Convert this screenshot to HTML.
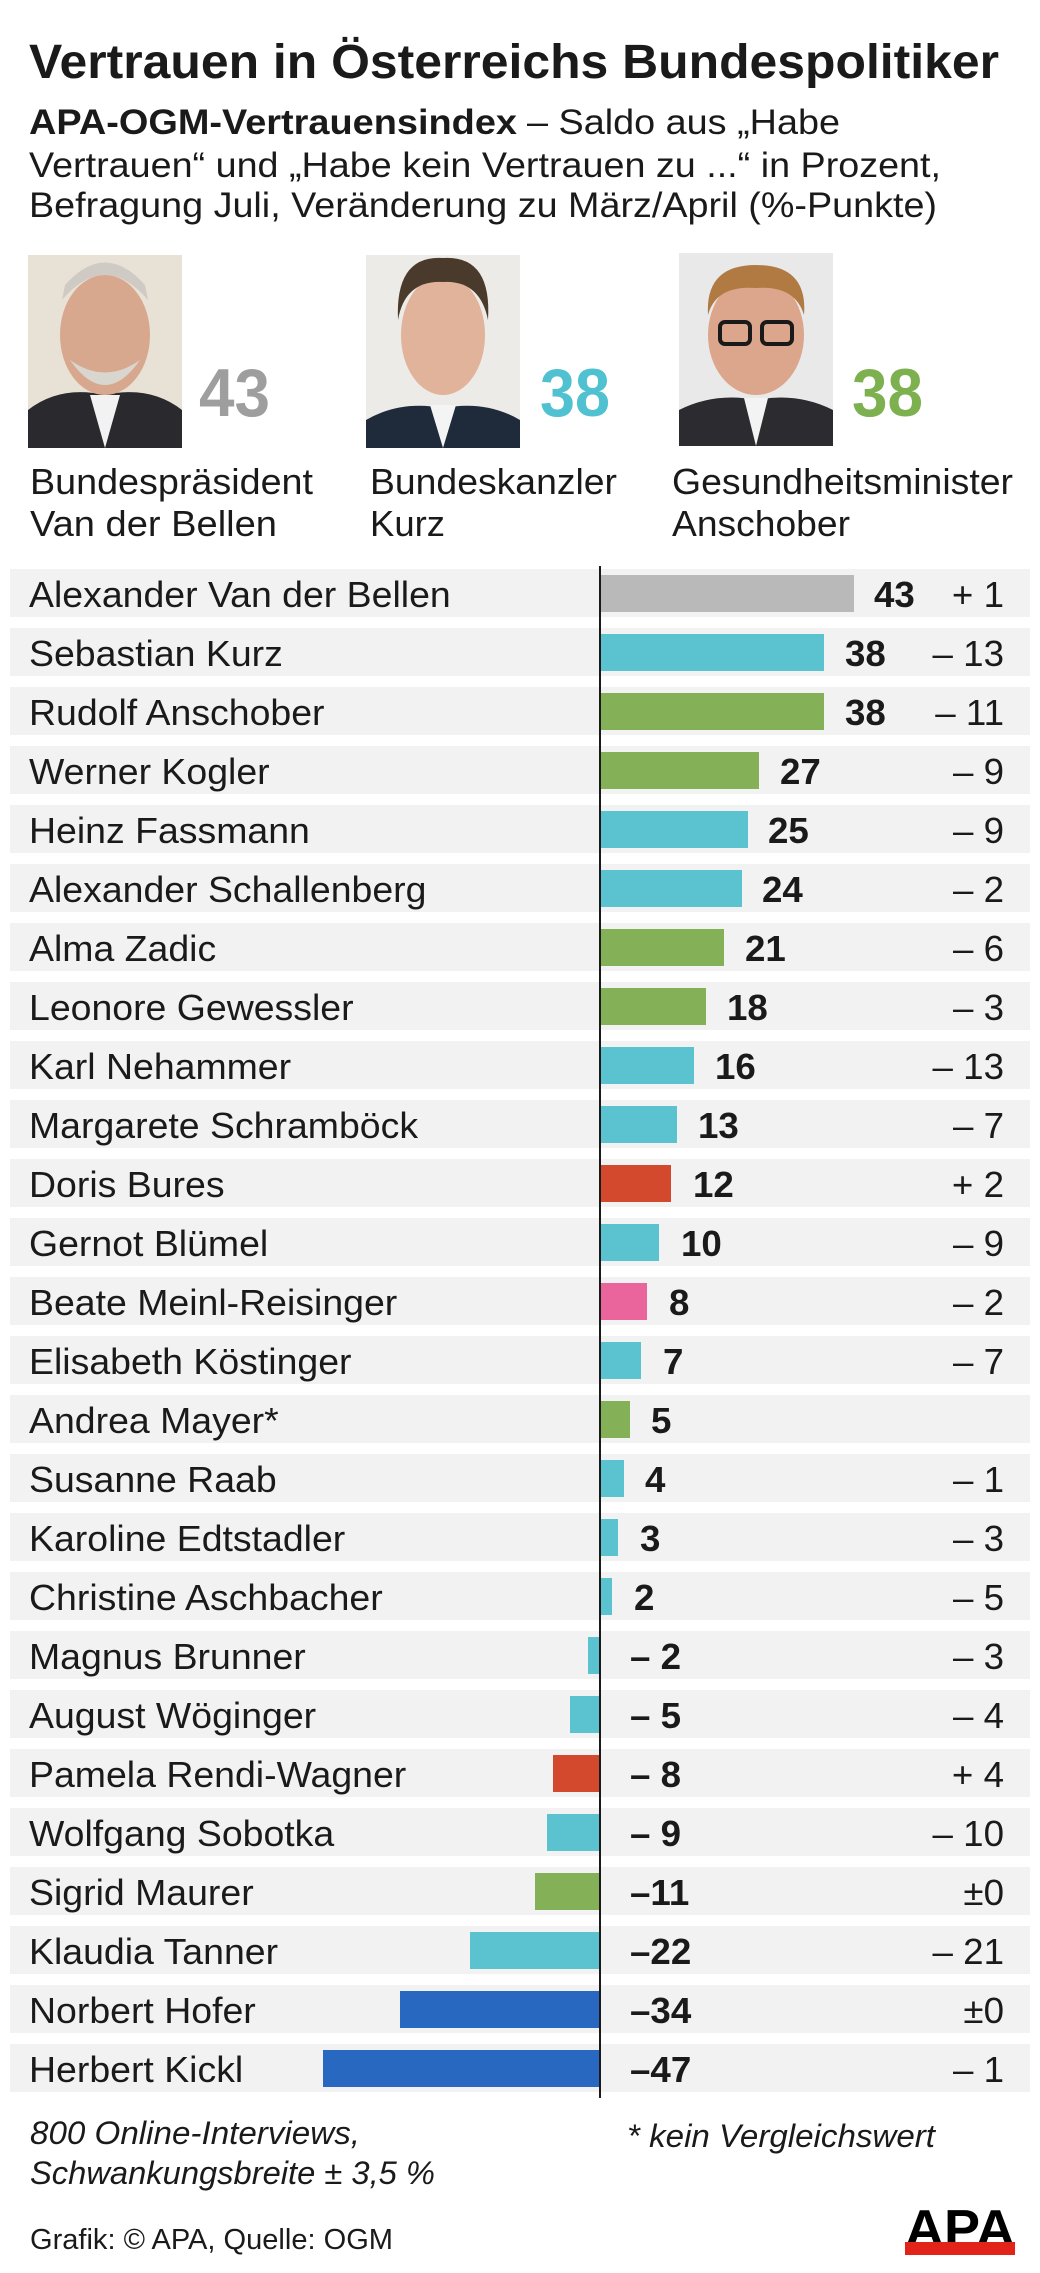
<!DOCTYPE html>
<html><head><meta charset="utf-8"><style>
html,body{margin:0;padding:0;background:#fff}
svg{display:block}
text{font-family:"Liberation Sans",Arial,sans-serif;fill:#1a1a1a}
.n{font-size:36px}
.b{font-size:36px;font-weight:bold}
.c{font-size:36px;text-anchor:end}
</style></head><body>
<svg width="1040" height="2273" viewBox="0 0 1040 2273" xmlns="http://www.w3.org/2000/svg">
<rect width="1040" height="2273" fill="#fff"/>
<text x="29" y="78" font-size="48" font-weight="bold" textLength="970" lengthAdjust="spacingAndGlyphs">Vertrauen in Österreichs Bundespolitiker</text>
<text x="29" y="134" font-size="35" font-weight="bold" textLength="488" lengthAdjust="spacingAndGlyphs">APA-OGM-Vertrauensindex</text>
<text x="527" y="134" font-size="35" textLength="313" lengthAdjust="spacingAndGlyphs">– Saldo aus „Habe</text>
<text x="29" y="177" font-size="35" textLength="912" lengthAdjust="spacingAndGlyphs">Vertrauen“ und „Habe kein Vertrauen zu ...“ in Prozent,</text>
<text x="29" y="217" font-size="35" textLength="908" lengthAdjust="spacingAndGlyphs">Befragung Juli, Veränderung zu März/April (%-Punkte)</text>

<g>
<rect x="28" y="255" width="154" height="193" fill="#e8e2d6"/>
<path d="M28 448 L28 410 Q60 385 105 395 Q150 385 182 410 L182 448Z" fill="#2a2a2e"/>
<path d="M90 395 L105 448 L120 395Z" fill="#f2f2f2"/>
<ellipse cx="105" cy="335" rx="45" ry="60" fill="#d8a88e"/>
<path d="M62 300 Q105 250 148 300 L145 285 Q105 240 65 285Z" fill="#cfcac4"/>
<path d="M70 360 Q105 410 140 360 Q105 385 70 360Z" fill="#d9d6d0"/>
</g>
<g>
<rect x="366" y="255" width="154" height="193" fill="#ecebe8"/>
<path d="M366 448 L366 420 Q400 400 443 408 Q486 400 520 420 L520 448Z" fill="#1f2a3a"/>
<path d="M430 405 L443 448 L456 405Z" fill="#f4f4f4"/>
<ellipse cx="443" cy="335" rx="42" ry="60" fill="#e0b39a"/>
<path d="M398 320 Q395 255 443 258 Q492 255 488 320 Q480 280 443 282 Q405 280 398 320Z" fill="#4a3a2c"/>
</g>
<g>
<rect x="679" y="253" width="154" height="193" fill="#e9e9ea"/>
<path d="M679 446 L679 410 Q715 392 756 400 Q797 392 833 410 L833 446Z" fill="#2b2b30"/>
<path d="M744 398 L756 446 L768 398Z" fill="#f3f3f3"/>
<ellipse cx="756" cy="335" rx="48" ry="60" fill="#dca68c"/>
<path d="M708 315 Q705 265 756 265 Q808 265 804 315 Q795 285 756 288 Q716 285 708 315Z" fill="#b07a42"/>
<rect x="720" y="322" width="30" height="22" rx="5" fill="none" stroke="#1a1a1a" stroke-width="4"/>
<rect x="762" y="322" width="30" height="22" rx="5" fill="none" stroke="#1a1a1a" stroke-width="4"/>
</g>
<text x="199" y="416" font-size="68" font-weight="bold" style="fill:#9e9e9e" textLength="71" lengthAdjust="spacingAndGlyphs">43</text>
<text x="540" y="416" font-size="68" font-weight="bold" style="fill:#4fc1d0" textLength="70" lengthAdjust="spacingAndGlyphs">38</text>
<text x="852" y="416" font-size="68" font-weight="bold" style="fill:#7db04f" textLength="71" lengthAdjust="spacingAndGlyphs">38</text>
<text x="30" y="494" font-size="36" textLength="283" lengthAdjust="spacingAndGlyphs">Bundespräsident</text>
<text x="30" y="536" font-size="36" textLength="247" lengthAdjust="spacingAndGlyphs">Van der Bellen</text>
<text x="370" y="494" font-size="36" textLength="247" lengthAdjust="spacingAndGlyphs">Bundeskanzler</text>
<text x="370" y="536" font-size="36" textLength="75" lengthAdjust="spacingAndGlyphs">Kurz</text>
<text x="672" y="494" font-size="36" textLength="341" lengthAdjust="spacingAndGlyphs">Gesundheitsminister</text>
<text x="672" y="536" font-size="36" textLength="178" lengthAdjust="spacingAndGlyphs">Anschober</text>

<g fill="#f2f2f3">
<rect x="10" y="569" width="1020" height="48"/><rect x="10" y="628" width="1020" height="48"/>
<rect x="10" y="687" width="1020" height="48"/><rect x="10" y="746" width="1020" height="48"/>
<rect x="10" y="805" width="1020" height="48"/><rect x="10" y="864" width="1020" height="48"/>
<rect x="10" y="923" width="1020" height="48"/><rect x="10" y="982" width="1020" height="48"/>
<rect x="10" y="1041" width="1020" height="48"/><rect x="10" y="1100" width="1020" height="48"/>
<rect x="10" y="1159" width="1020" height="48"/><rect x="10" y="1218" width="1020" height="48"/>
<rect x="10" y="1277" width="1020" height="48"/><rect x="10" y="1336" width="1020" height="48"/>
<rect x="10" y="1395" width="1020" height="48"/><rect x="10" y="1454" width="1020" height="48"/>
<rect x="10" y="1513" width="1020" height="48"/><rect x="10" y="1572" width="1020" height="48"/>
<rect x="10" y="1631" width="1020" height="48"/><rect x="10" y="1690" width="1020" height="48"/>
<rect x="10" y="1749" width="1020" height="48"/><rect x="10" y="1808" width="1020" height="48"/>
<rect x="10" y="1867" width="1020" height="48"/><rect x="10" y="1926" width="1020" height="48"/>
<rect x="10" y="1985" width="1020" height="48"/><rect x="10" y="2044" width="1020" height="48"/>
</g>

<rect x="600" y="575" width="254" height="37" fill="#b9b9b9"/>
<rect x="600" y="634" width="224" height="37" fill="#5bc3d0"/>
<rect x="600" y="693" width="224" height="37" fill="#84b158"/>
<rect x="600" y="752" width="159" height="37" fill="#84b158"/>
<rect x="600" y="811" width="148" height="37" fill="#5bc3d0"/>
<rect x="600" y="870" width="142" height="37" fill="#5bc3d0"/>
<rect x="600" y="929" width="124" height="37" fill="#84b158"/>
<rect x="600" y="988" width="106" height="37" fill="#84b158"/>
<rect x="600" y="1047" width="94" height="37" fill="#5bc3d0"/>
<rect x="600" y="1106" width="77" height="37" fill="#5bc3d0"/>
<rect x="600" y="1165" width="71" height="37" fill="#d3492d"/>
<rect x="600" y="1224" width="59" height="37" fill="#5bc3d0"/>
<rect x="600" y="1283" width="47" height="37" fill="#e9659c"/>
<rect x="600" y="1342" width="41" height="37" fill="#5bc3d0"/>
<rect x="600" y="1401" width="30" height="37" fill="#84b158"/>
<rect x="600" y="1460" width="24" height="37" fill="#5bc3d0"/>
<rect x="600" y="1519" width="18" height="37" fill="#5bc3d0"/>
<rect x="600" y="1578" width="12" height="37" fill="#5bc3d0"/>
<rect x="588" y="1637" width="12" height="37" fill="#5bc3d0"/>
<rect x="570" y="1696" width="30" height="37" fill="#5bc3d0"/>
<rect x="553" y="1755" width="47" height="37" fill="#d3492d"/>
<rect x="547" y="1814" width="53" height="37" fill="#5bc3d0"/>
<rect x="535" y="1873" width="65" height="37" fill="#84b158"/>
<rect x="470" y="1932" width="130" height="37" fill="#5bc3d0"/>
<rect x="400" y="1991" width="200" height="37" fill="#2968c0"/>
<rect x="323" y="2050" width="277" height="37" fill="#2968c0"/>
<line x1="600" y1="566" x2="600" y2="2098" stroke="#1a1a1a" stroke-width="2"/>

<g class="n">
<text transform="translate(29,607) scale(1.04,1)">Alexander Van der Bellen</text>
<text transform="translate(29,666) scale(1.04,1)">Sebastian Kurz</text>
<text transform="translate(29,725) scale(1.04,1)">Rudolf Anschober</text>
<text transform="translate(29,784) scale(1.04,1)">Werner Kogler</text>
<text transform="translate(29,843) scale(1.04,1)">Heinz Fassmann</text>
<text transform="translate(29,902) scale(1.04,1)">Alexander Schallenberg</text>
<text transform="translate(29,961) scale(1.04,1)">Alma Zadic</text>
<text transform="translate(29,1020) scale(1.04,1)">Leonore Gewessler</text>
<text transform="translate(29,1079) scale(1.04,1)">Karl Nehammer</text>
<text transform="translate(29,1138) scale(1.04,1)">Margarete Schramböck</text>
<text transform="translate(29,1197) scale(1.04,1)">Doris Bures</text>
<text transform="translate(29,1256) scale(1.04,1)">Gernot Blümel</text>
<text transform="translate(29,1315) scale(1.04,1)">Beate Meinl-Reisinger</text>
<text transform="translate(29,1374) scale(1.04,1)">Elisabeth Köstinger</text>
<text transform="translate(29,1433) scale(1.04,1)">Andrea Mayer*</text>
<text transform="translate(29,1492) scale(1.04,1)">Susanne Raab</text>
<text transform="translate(29,1551) scale(1.04,1)">Karoline Edtstadler</text>
<text transform="translate(29,1610) scale(1.04,1)">Christine Aschbacher</text>
<text transform="translate(29,1669) scale(1.04,1)">Magnus Brunner</text>
<text transform="translate(29,1728) scale(1.04,1)">August Wöginger</text>
<text transform="translate(29,1787) scale(1.04,1)">Pamela Rendi-Wagner</text>
<text transform="translate(29,1846) scale(1.04,1)">Wolfgang Sobotka</text>
<text transform="translate(29,1905) scale(1.04,1)">Sigrid Maurer</text>
<text transform="translate(29,1964) scale(1.04,1)">Klaudia Tanner</text>
<text transform="translate(29,2023) scale(1.04,1)">Norbert Hofer</text>
<text transform="translate(29,2082) scale(1.04,1)">Herbert Kickl</text>
</g>

<g class="b">
<text transform="translate(874,607) scale(1.02,1)">43</text>
<text transform="translate(845,666) scale(1.02,1)">38</text>
<text transform="translate(845,725) scale(1.02,1)">38</text>
<text transform="translate(780,784) scale(1.02,1)">27</text>
<text transform="translate(768,843) scale(1.02,1)">25</text>
<text transform="translate(762,902) scale(1.02,1)">24</text>
<text transform="translate(745,961) scale(1.02,1)">21</text>
<text transform="translate(727,1020) scale(1.02,1)">18</text>
<text transform="translate(715,1079) scale(1.02,1)">16</text>
<text transform="translate(698,1138) scale(1.02,1)">13</text>
<text transform="translate(693,1197) scale(1.02,1)">12</text>
<text transform="translate(681,1256) scale(1.02,1)">10</text>
<text transform="translate(669,1315) scale(1.02,1)">8</text>
<text transform="translate(663,1374) scale(1.02,1)">7</text>
<text transform="translate(651,1433) scale(1.02,1)">5</text>
<text transform="translate(645,1492) scale(1.02,1)">4</text>
<text transform="translate(640,1551) scale(1.02,1)">3</text>
<text transform="translate(634,1610) scale(1.02,1)">2</text>
<text transform="translate(630,1669) scale(1.02,1)">– 2</text>
<text transform="translate(630,1728) scale(1.02,1)">– 5</text>
<text transform="translate(630,1787) scale(1.02,1)">– 8</text>
<text transform="translate(630,1846) scale(1.02,1)">– 9</text>
<text transform="translate(630,1905) scale(1.02,1)">–11</text>
<text transform="translate(630,1964) scale(1.02,1)">–22</text>
<text transform="translate(630,2023) scale(1.02,1)">–34</text>
<text transform="translate(630,2082) scale(1.02,1)">–47</text>
</g>

<g class="c">
<text transform="translate(1004,607) scale(1.02,1)">+ 1</text>
<text transform="translate(1004,666) scale(1.02,1)">– 13</text>
<text transform="translate(1004,725) scale(1.02,1)">– 11</text>
<text transform="translate(1004,784) scale(1.02,1)">– 9</text>
<text transform="translate(1004,843) scale(1.02,1)">– 9</text>
<text transform="translate(1004,902) scale(1.02,1)">– 2</text>
<text transform="translate(1004,961) scale(1.02,1)">– 6</text>
<text transform="translate(1004,1020) scale(1.02,1)">– 3</text>
<text transform="translate(1004,1079) scale(1.02,1)">– 13</text>
<text transform="translate(1004,1138) scale(1.02,1)">– 7</text>
<text transform="translate(1004,1197) scale(1.02,1)">+ 2</text>
<text transform="translate(1004,1256) scale(1.02,1)">– 9</text>
<text transform="translate(1004,1315) scale(1.02,1)">– 2</text>
<text transform="translate(1004,1374) scale(1.02,1)">– 7</text>
<text transform="translate(1004,1492) scale(1.02,1)">– 1</text>
<text transform="translate(1004,1551) scale(1.02,1)">– 3</text>
<text transform="translate(1004,1610) scale(1.02,1)">– 5</text>
<text transform="translate(1004,1669) scale(1.02,1)">– 3</text>
<text transform="translate(1004,1728) scale(1.02,1)">– 4</text>
<text transform="translate(1004,1787) scale(1.02,1)">+ 4</text>
<text transform="translate(1004,1846) scale(1.02,1)">– 10</text>
<text transform="translate(1004,1905) scale(1.02,1)">±0</text>
<text transform="translate(1004,1964) scale(1.02,1)">– 21</text>
<text transform="translate(1004,2023) scale(1.02,1)">±0</text>
<text transform="translate(1004,2082) scale(1.02,1)">– 1</text>
</g>

<text x="30" y="2144" font-size="32" font-style="italic" textLength="330" lengthAdjust="spacingAndGlyphs">800 Online-Interviews,</text>
<text x="30" y="2184" font-size="32" font-style="italic" textLength="405" lengthAdjust="spacingAndGlyphs">Schwankungsbreite ± 3,5 %</text>
<text x="627" y="2147" font-size="32" font-style="italic" textLength="308" lengthAdjust="spacingAndGlyphs">* kein Vergleichswert</text>
<text x="30" y="2249" font-size="29" textLength="363" lengthAdjust="spacingAndGlyphs">Grafik: © APA, Quelle: OGM</text>
<text x="905" y="2246" font-size="52" font-weight="bold" style="fill:#000" textLength="110" lengthAdjust="spacingAndGlyphs">APA</text>
<rect x="905" y="2242" width="110" height="13" fill="#e2231a"/>
</svg>
</body></html>
